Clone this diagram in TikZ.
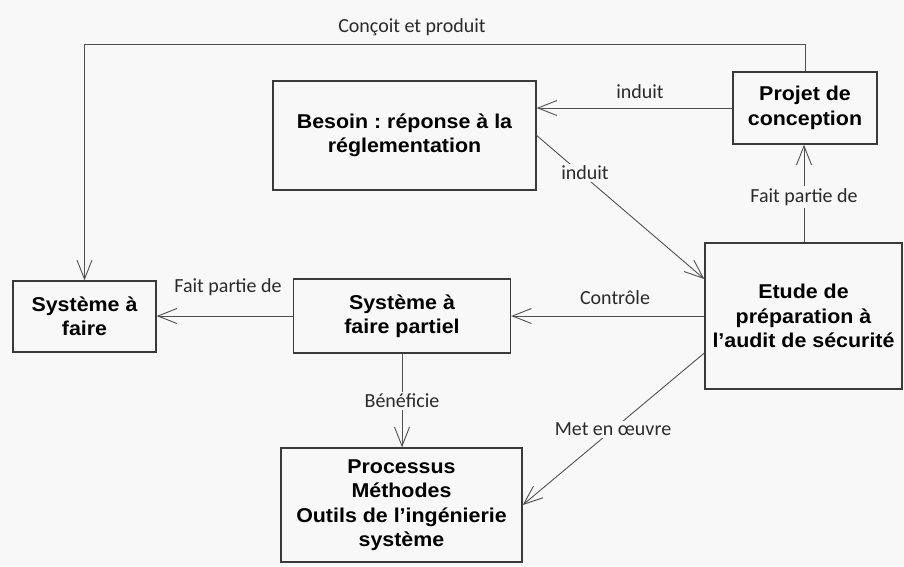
\documentclass[tikz,border=0pt]{standalone}
\usepackage{fontspec}
\setmainfont{Liberation Sans}
\newfontfamily\boxfont[FakeStretch=1.07]{Liberation Sans}
\newfontfamily\lblfont{Carlito}
\frenchspacing
\usetikzlibrary{arrows.meta,calc}
\definecolor{bg}{HTML}{F8F8F8}
\definecolor{boxline}{HTML}{3A3A3A}
\definecolor{conn}{HTML}{505050}
\definecolor{lbltxt}{HTML}{2A2A2A}
\tikzset{
  box/.style={draw=boxline, line width=1.4pt, align=center, inner sep=0pt,
    font=\boxfont\bfseries\fontsize{20}{24.5}\selectfont, text=black},
  link/.style={draw=conn, line width=0.9pt,
    -{Straight Barb[length=19pt,width=15pt,line width=0.9pt]}},
  lbl/.style={font=\lblfont\fontsize{20}{23}\selectfont, text=lbltxt, inner sep=2pt},
  lblcut/.style={lbl, fill=bg}
}
\begin{document}
\begin{tikzpicture}[x=1pt,y=-1pt]
\fill[bg] (0,0) rectangle (904,566);
\useasboundingbox (0,0) rectangle (904,566);

\node[box, minimum width=143pt, minimum height=71pt] (saf) at (84.5,316.5) {Système à\\faire};
\node[box, minimum width=217pt, minimum height=74pt] (partiel) at (402,316) {Système à\\faire partiel};
\node[box, minimum width=197pt, minimum height=146pt] (etude) at (803.5,316) {Etude de\\préparation à\\l’audit de sécurité};
\node[box, minimum width=263pt, minimum height=109pt] (besoin) at (404.5,135.5) {Besoin : réponse à la\\réglementation};
\node[box, minimum width=144pt, minimum height=72pt] (projet) at (805,108) {Projet de\\conception};
\node[box, minimum width=241pt, minimum height=114pt] (proc) at (401.5,505) {Processus\\Méthodes\\Outils de l’ingénierie\\système};

% Conçoit et produit
\draw[link] (projet.north) -- ++(0,-27) -| (saf.north);
\node[lbl] (lconcoit) at (412,27) {Conçoit et produit};

% induit (top)
\draw[link] (projet.west) -- (projet.west -| besoin.east);
\node[lbl] (linduit1) at (640,92) {induit};

% induit (diagonal)
\draw[link] (besoin.east) -- ([yshift=37pt]etude.west);
\node[lblcut] (linduit2) at (585,173) {induit};

% Fait partie de (right)
\draw[link] ([xshift=0.5pt]etude.north) -- ([xshift=0.5pt]etude.north |- projet.south);
\node[lblcut] (lfait1) at (804,197) {Fait partie de};

% Contrôle
\draw[link] (etude.west) -- (etude.west -| partiel.east);
\node[lbl] (lcontrole) at (615,298) {Contrôle};

% Fait partie de (left)
\draw[link] (partiel.west) -- (partiel.west -| saf.east);
\node[lbl] (lfait2) at (228,287) {Fait partie de};

% Bénéficie
\draw[link] (partiel.south) -- (partiel.south |- proc.north);
\node[lblcut] (lbenef) at (402,401) {Bénéficie};

% Met en oeuvre
\draw[link] ([yshift=-37pt]etude.west) -- (proc.east);
\node[lblcut] (lmet) at (613,429) {Met en œuvre};
\end{tikzpicture}
\end{document}
